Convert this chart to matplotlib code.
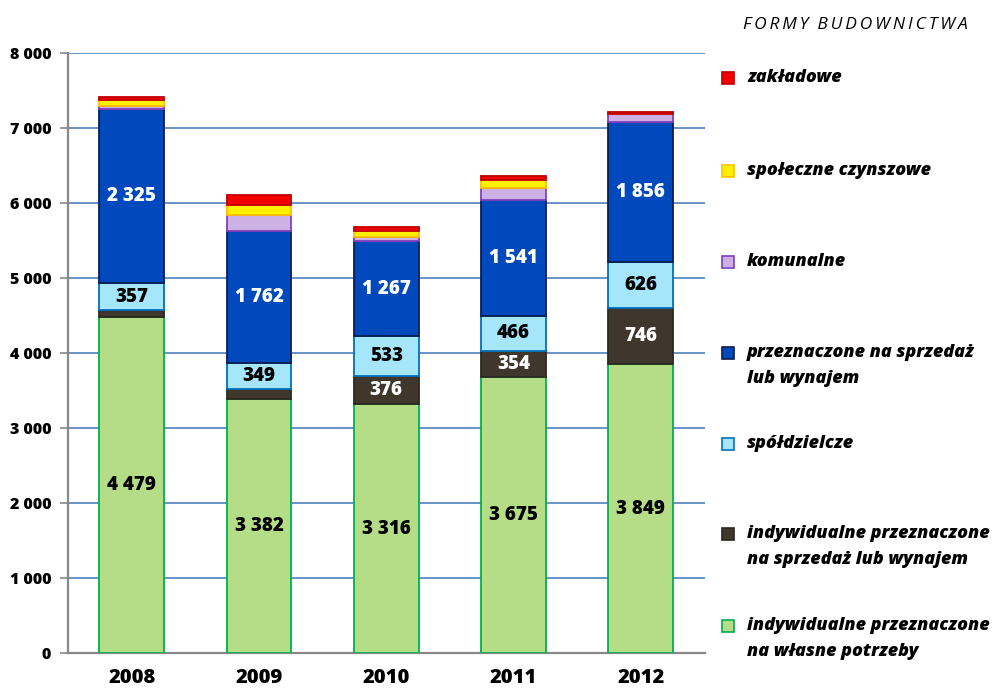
import matplotlib
matplotlib.use("Agg")
import matplotlib.pyplot as plt
from matplotlib.patches import Rectangle
import numpy as np

plt.rcParams['font.family'] = ['Open Sans', 'DejaVu Sans']

years = ['2008', '2009', '2010', '2011', '2012']

# series from the bottom of the stack to the top
series_names = [
    'indywidualne przeznaczone\nna własne potrzeby',
    'indywidualne przeznaczone\nna sprzedaż lub wynajem',
    'spółdzielcze',
    'przeznaczone na sprzedaż\nlub wynajem',
    'komunalne',
    'społeczne czynszowe',
    'zakładowe',
]
indyw_wlasne = [4479, 3382, 3316, 3675, 3849]
indyw_sprzedaz = [95, 135, 376, 354, 746]
spoldzielcze = [357, 349, 533, 466, 626]
sprzedaz_wynajem = [2325, 1762, 1267, 1541, 1856]
komunalne = [45, 218, 50, 160, 110]
spoleczne = [80, 133, 80, 111, 0]
zakladowe = [30, 124, 55, 55, 27]

values = [indyw_wlasne, indyw_sprzedaz, spoldzielcze, sprzedaz_wynajem,
          komunalne, spoleczne, zakladowe]
face = ['#B5DD88', '#3F362C', '#A5E6FA', '#0049BC', '#CDB0E4', '#FFF000', '#F20000']
edge = ['#00B050', '#2A2A20', '#0070C0', '#0A1E50', '#8040C0', '#FFC000', '#C00000']
label_color = ['black', 'white', 'black', 'white', None, None, None]
W8 = 800

fig = plt.figure(figsize=(9.93, 6.91), dpi=100)
ax = fig.add_axes([0.0685, 0.055, 0.641, 0.868])

x = np.arange(len(years))
bottom = np.zeros(len(years))
for vals, fc, ec, lc in zip(values, face, edge, label_color):
    vals = np.array(vals, dtype=float)
    ax.bar(x, vals, width=0.51, bottom=bottom, color=fc, edgecolor=ec,
           linewidth=1.3, zorder=3)
    if lc is not None:
        for xi, v, b in zip(x, vals, bottom):
            if v >= 300:
                ax.text(xi, b + v / 2, f"{int(v):,}".replace(",", " "),
                        ha='center', va='center', fontsize=13.5,
                        fontweight=W8, color=lc, zorder=4)
    bottom += vals

ax.set_xlim(-0.5, 4.5)
ax.set_ylim(0, 8000)
ax.set_yticks(range(0, 8001, 1000))
ax.set_yticklabels([f"{t:,}".replace(",", " ") for t in range(0, 8001, 1000)],
                   fontsize=11.5, fontweight=W8)
ax.set_xticks(x)
ax.set_xticklabels(years, fontsize=14.5, fontweight=W8)
ax.tick_params(axis='x', length=0, pad=11)
ax.tick_params(axis='y', length=6, width=1.2, color='#888888', pad=6)
ax.yaxis.grid(True, color='#4F81BD', linewidth=1.2, zorder=0)
ax.set_axisbelow(True)
for s in ['top', 'right']:
    ax.spines[s].set_visible(False)
for s in ['left', 'bottom']:
    ax.spines[s].set_color('#888888')
    ax.spines[s].set_linewidth(1.6)

# legend drawn by hand on the right
W, H = 993, 691
title = '\u2009'.join('FORMY') + '  ' + '\u2009'.join('BUDOWNICTWA')
fig.text(855 / W, 1 - 25 / H, title, ha='center', va='center',
         fontsize=12.5, style='italic')
legend_y = [78, 171, 262, 353, 444, 534, 626]
for name, fc, ec, yy in zip(series_names[::-1], face[::-1], edge[::-1], legend_y):
    fig.add_artist(Rectangle((722 / W, 1 - (yy + 6) / H), 12 / W, 12 / H,
                             transform=fig.transFigure, facecolor=fc,
                             edgecolor=ec, linewidth=1.2))
    for k, line in enumerate(name.split('\n')):
        fig.text(747 / W, 1 - (yy + 4 + 26 * k) / H, line, ha='left', va='baseline',
                 fontsize=13, fontweight=W8, style='italic')

fig.savefig('out.png', dpi=100)
